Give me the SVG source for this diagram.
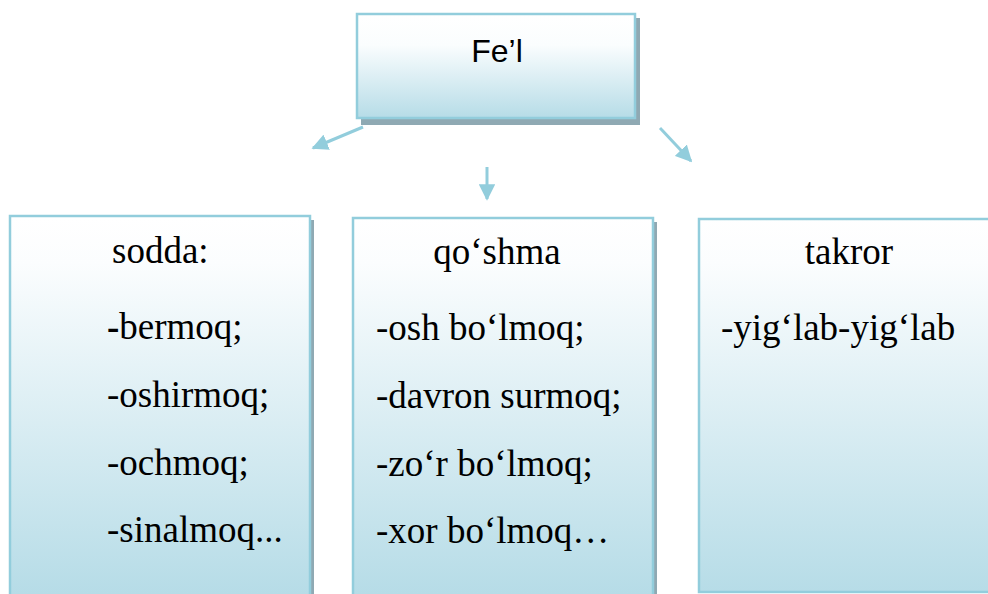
<svg xmlns="http://www.w3.org/2000/svg" width="988" height="594" viewBox="0 0 988 594">
<defs>
<linearGradient id="gTop" x1="0" y1="0" x2="0" y2="1">
<stop offset="0" stop-color="#ffffff"/>
<stop offset="0.3" stop-color="#fafdfe"/>
<stop offset="1" stop-color="#b6dce7"/>
</linearGradient>
<linearGradient id="gBox" gradientUnits="userSpaceOnUse" x1="0" y1="218" x2="0" y2="594">
<stop offset="0" stop-color="#ffffff"/>
<stop offset="0.12" stop-color="#fbfdfe"/>
<stop offset="1" stop-color="#b6dce7"/>
</linearGradient>
<marker id="ah" viewBox="0 0 10 10" refX="9" refY="5" markerWidth="5.5" markerHeight="5.5" markerUnits="strokeWidth" orient="auto">
<path d="M0,0 L10,5 L0,10 Z" fill="#92cddc"/>
</marker>
<style>
.shadow{fill:#8fa9b3;}
.box{stroke:#92cddc;stroke-width:2.5;}
.conn{stroke:#92cddc;stroke-width:3;fill:none;marker-end:url(#ah);}
.sans{font-family:"Liberation Sans",Arial,sans-serif;font-size:32px;fill:#000;}
.serif{font-family:"Liberation Serif","Times New Roman",serif;font-size:37px;fill:#000;}
</style>
</defs>
<rect width="988" height="594" fill="#ffffff"/>
<g id="connectors">
<line class="conn" x1="363" y1="127" x2="313" y2="148"/>
<line class="conn" x1="487" y1="167" x2="487" y2="199"/>
<line class="conn" x1="660" y1="128" x2="691" y2="161"/>
</g>
<g id="node-fel">
<rect class="shadow" x="361" y="18" width="279" height="107"/>
<rect class="box" x="357" y="14" width="278" height="104" fill="url(#gTop)"/>
<text class="sans" x="497" y="62" text-anchor="middle">Fe’l</text>
</g>
<g id="node-sodda">
<rect class="shadow" x="14" y="220" width="300" height="380"/>
<rect class="box" x="10" y="216" width="300" height="384" fill="url(#gBox)"/>
<text class="serif" x="112" y="263">sodda:</text>
<text class="serif" x="107" y="339"><tspan font-weight="bold">-</tspan>bermoq;</text>
<text class="serif" x="107" y="407">-oshirmoq;</text>
<text class="serif" x="107" y="475">-ochmoq;</text>
<text class="serif" x="107" y="542">-sinalmoq...</text>
</g>
<g id="node-qoshma">
<rect class="shadow" x="357" y="222" width="300" height="380"/>
<rect class="box" x="353" y="218" width="300" height="384" fill="url(#gBox)"/>
<text class="serif" x="497" y="264" text-anchor="middle">qo‘shma</text>
<text class="serif" x="376" y="340">-osh bo‘lmoq;</text>
<text class="serif" x="376" y="408">-davron surmoq;</text>
<text class="serif" x="376" y="476">-zo‘r bo‘lmoq;</text>
<text class="serif" x="376" y="543">-xor bo‘lmoq…</text>
</g>
<g id="node-takror">
<rect class="box" x="699" y="219" width="300" height="373" fill="url(#gBox)"/>
<text class="serif" x="849" y="264" text-anchor="middle">takror</text>
<text class="serif" x="721" y="340">-yig‘lab-yig‘lab</text>
</g>
</svg>
